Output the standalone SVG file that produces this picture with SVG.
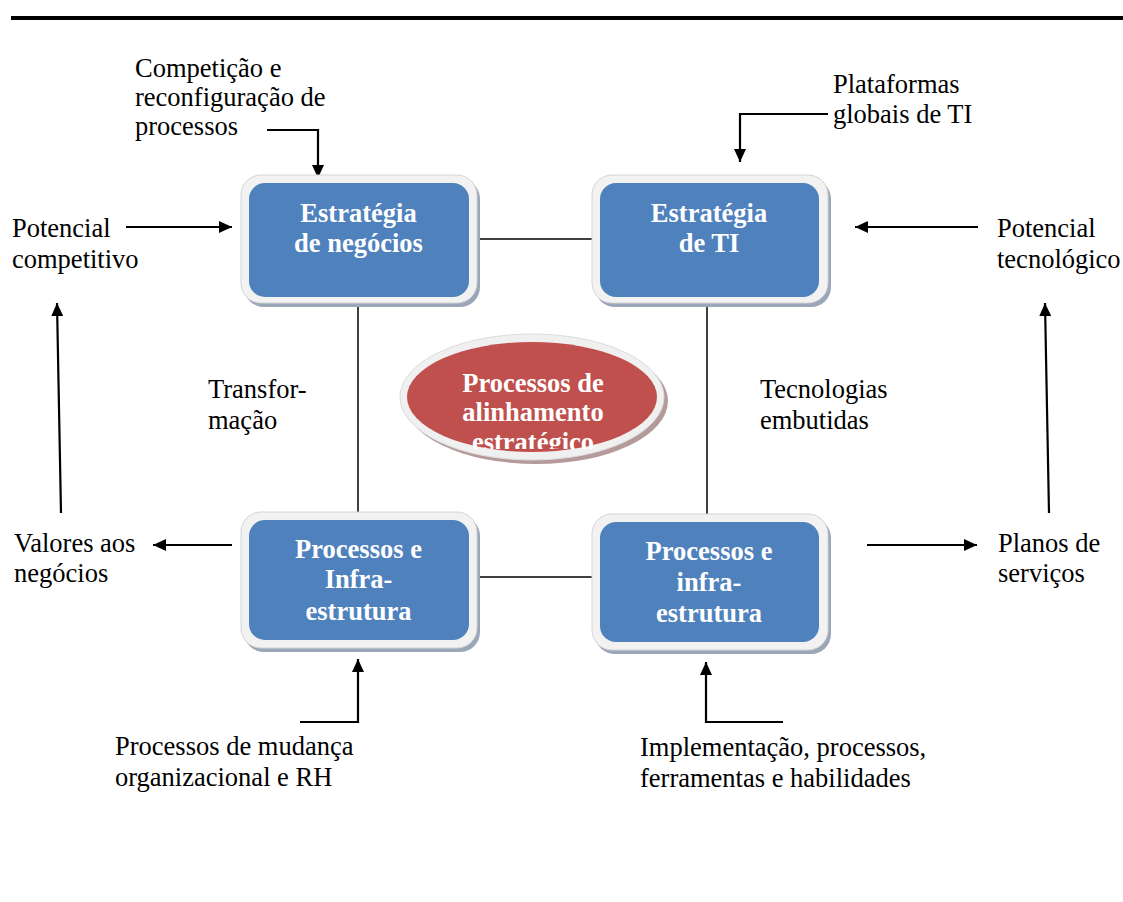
<svg xmlns="http://www.w3.org/2000/svg" width="1123" height="902" viewBox="0 0 1123 902">
  <defs>
    <style>
      .lbl { font-family: "Liberation Serif", "Times New Roman", serif; font-size: 26.5px; fill: #000; }
      .btxt { font-family: "Liberation Serif", "Times New Roman", serif; font-size: 26.5px; font-weight: bold; fill: #fff; text-anchor: middle; }
      .frame { fill: #f2f2f2; stroke: #d4d4d4; stroke-width: 1; }
      .shadow { fill: #9ba6b8; }
      .blue { fill: #4f81bd; }
      .link { stroke: #000; stroke-width: 1.5; fill: none; }
      .arr { stroke: #000; stroke-width: 2.2; fill: none; marker-end: url(#head); }
    </style>
    <marker id="head" markerUnits="userSpaceOnUse" markerWidth="14" markerHeight="12" refX="13" refY="6" orient="auto">
      <path d="M0,0 L13,6 L0,12 z" fill="#000"/>
    </marker>
    <clipPath id="ovalClip">
      <rect x="380" y="330" width="300" height="119"/>
    </clipPath>
  </defs>

  <rect width="1123" height="902" fill="#fff"/>

  <!-- heading rule -->
  <rect x="11" y="16" width="1112" height="4" fill="#000"/>

  <!-- connectors -->
  <g id="connectors">
    <line class="link" x1="476" y1="239" x2="596" y2="239"/>
    <line class="link" x1="476" y1="577" x2="596" y2="577"/>
    <line class="link" x1="358" y1="303" x2="358" y2="514"/>
    <line class="link" x1="707" y1="303" x2="707" y2="517"/>

    <polyline class="arr" points="267,130 318,130 318,178"/>
    <polyline class="arr" points="828,114 740,114 740,162"/>
    <line class="arr" x1="126" y1="227" x2="232" y2="227"/>
    <line class="arr" x1="978" y1="227" x2="855" y2="227"/>
    <line class="arr" x1="232" y1="545" x2="153" y2="545"/>
    <line class="arr" x1="867" y1="545" x2="977" y2="545"/>
    <line class="arr" x1="61" y1="513" x2="57" y2="303"/>
    <line class="arr" x1="1049" y1="513" x2="1045" y2="303"/>
    <polyline class="arr" points="300,722 358,722 358,659"/>
    <polyline class="arr" points="783,722 706,722 706,662"/>
  </g>

  <!-- Estratégia de negócios -->
  <g id="estrategia-negocios">
    <rect class="shadow" x="244" y="179" width="236" height="128" rx="20"/>
    <rect class="frame" x="241" y="175" width="236" height="128" rx="20"/>
    <rect class="blue" x="249" y="183" width="220" height="114" rx="16"/>
    <text class="btxt" x="358.5" y="222">Estratégia</text>
    <text class="btxt" x="358.5" y="252">de negócios</text>
  </g>

  <!-- Estratégia de TI -->
  <g id="estrategia-ti">
    <rect class="shadow" x="595" y="179" width="236" height="128" rx="20"/>
    <rect class="frame" x="592" y="175" width="236" height="128" rx="20"/>
    <rect class="blue" x="600" y="183" width="219" height="114" rx="16"/>
    <text class="btxt" x="709" y="222">Estratégia</text>
    <text class="btxt" x="709" y="252">de TI</text>
  </g>

  <!-- Processos e Infra-estrutura (negócios) -->
  <g id="processos-negocios">
    <rect class="shadow" x="244" y="516" width="236" height="136" rx="20"/>
    <rect class="frame" x="241" y="512" width="236" height="136" rx="20"/>
    <rect class="blue" x="249" y="520" width="220" height="120" rx="16"/>
    <text class="btxt" x="358.5" y="558">Processos e</text>
    <text class="btxt" x="358.5" y="588">Infra-</text>
    <text class="btxt" x="358.5" y="620">estrutura</text>
  </g>

  <!-- Processos e infra-estrutura (TI) -->
  <g id="processos-ti">
    <rect class="shadow" x="595" y="518" width="236" height="136" rx="20"/>
    <rect class="frame" x="592" y="514" width="236" height="136" rx="20"/>
    <rect class="blue" x="600" y="522" width="219" height="120" rx="16"/>
    <text class="btxt" x="709" y="560">Processos e</text>
    <text class="btxt" x="709" y="591">infra-</text>
    <text class="btxt" x="709" y="622">estrutura</text>
  </g>

  <!-- central oval -->
  <g id="alinhamento">
    <ellipse cx="536" cy="401" rx="132" ry="63" fill="#b59a9a"/>
    <ellipse cx="532" cy="397" rx="132" ry="63" fill="#f0f0f0" stroke="#dcdcdc" stroke-width="1"/>
    <ellipse cx="532" cy="397" rx="125" ry="55" fill="#c0504d"/>
    <g clip-path="url(#ovalClip)">
      <text class="btxt" x="533" y="392">Processos de</text>
      <text class="btxt" x="533" y="421">alinhamento</text>
      <text class="btxt" x="533" y="451">estratégico</text>
    </g>
  </g>

  <!-- outer labels -->
  <g id="label-competicao">
    <text class="lbl" x="135" y="77">Competição e</text>
    <text class="lbl" x="135" y="106">reconfiguração de</text>
    <text class="lbl" x="135" y="135">processos</text>
  </g>
  <g id="label-plataformas">
    <text class="lbl" x="833" y="93">Plataformas</text>
    <text class="lbl" x="833" y="123">globais de TI</text>
  </g>
  <g id="label-potencial-competitivo">
    <text class="lbl" x="12" y="237">Potencial</text>
    <text class="lbl" x="12" y="268">competitivo</text>
  </g>
  <g id="label-potencial-tecnologico">
    <text class="lbl" x="997" y="237">Potencial</text>
    <text class="lbl" x="997" y="268">tecnológico</text>
  </g>
  <g id="label-transformacao">
    <text class="lbl" x="208" y="398">Transfor-</text>
    <text class="lbl" x="208" y="429">mação</text>
  </g>
  <g id="label-tecnologias">
    <text class="lbl" x="760" y="398">Tecnologias</text>
    <text class="lbl" x="760" y="429">embutidas</text>
  </g>
  <g id="label-valores">
    <text class="lbl" x="14" y="552">Valores aos</text>
    <text class="lbl" x="14" y="582">negócios</text>
  </g>
  <g id="label-planos">
    <text class="lbl" x="998" y="552">Planos de</text>
    <text class="lbl" x="998" y="582">serviços</text>
  </g>
  <g id="label-mudanca">
    <text class="lbl" x="115" y="755">Processos de mudança</text>
    <text class="lbl" x="115" y="786">organizacional e RH</text>
  </g>
  <g id="label-implementacao">
    <text class="lbl" x="640" y="756">Implementação, processos,</text>
    <text class="lbl" x="640" y="787">ferramentas e habilidades</text>
  </g>
</svg>
